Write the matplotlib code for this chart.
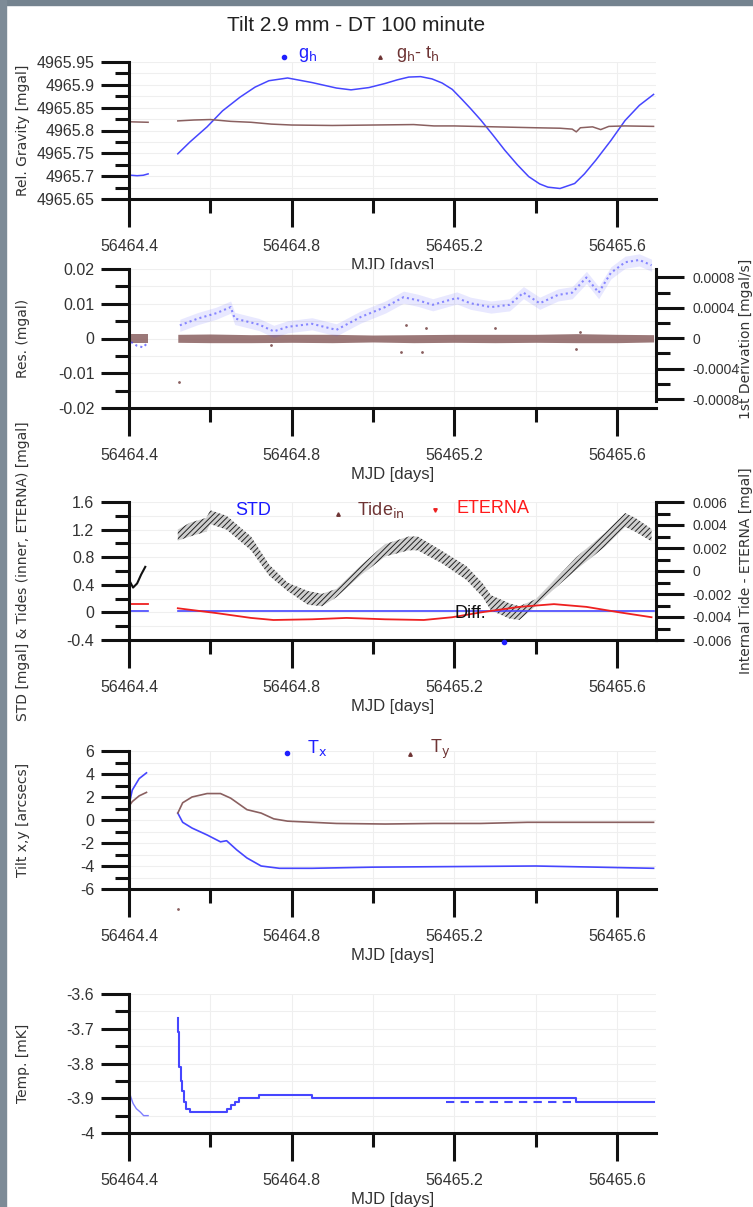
import matplotlib
matplotlib.use("Agg")
import matplotlib.pyplot as plt
from matplotlib.ticker import MultipleLocator, FuncFormatter
from matplotlib.lines import Line2D
from matplotlib.patches import Rectangle

plt.rcParams["font.family"] = ["Liberation Sans", "DejaVu Sans"]
plt.rcParams["axes.unicode_minus"] = False
plt.rcParams["mathtext.default"] = "regular"
plt.rcParams["hatch.linewidth"] = 0.7

# ---- panel 1: relative gravity [mgal]
gh_x1 = [56464.405, 56464.42, 56464.435, 56464.447]
gh_y1 = [4965.702, 4965.701, 4965.702, 4965.705]
gh_x = [56464.52, 56464.55, 56464.592, 56464.63, 56464.673, 56464.71, 56464.744,
        56464.79, 56464.85, 56464.91, 56464.946, 56464.99, 56465.03, 56465.06,
        56465.088, 56465.117, 56465.145, 56465.17, 56465.195, 56465.219, 56465.24,
        56465.265, 56465.295, 56465.324, 56465.355, 56465.383, 56465.41, 56465.43,
        56465.46, 56465.496, 56465.52, 56465.548, 56465.585, 56465.62, 56465.655,
        56465.69]
gh_y = [4965.749, 4965.775, 4965.808, 4965.843, 4965.873, 4965.895, 4965.909,
        4965.915, 4965.905, 4965.893, 4965.889, 4965.894, 4965.903, 4965.911,
        4965.917, 4965.918, 4965.913, 4965.904, 4965.89, 4965.868, 4965.848,
        4965.823, 4965.79, 4965.757, 4965.725, 4965.699, 4965.683, 4965.676,
        4965.673, 4965.684, 4965.705, 4965.735, 4965.778, 4965.822, 4965.855,
        4965.879]
gt_x1 = [56464.405, 56464.447]
gt_y1 = [4965.819, 4965.818]
gt_x = [56464.52, 56464.56, 56464.6, 56464.65, 56464.7, 56464.75, 56464.8, 56464.9,
        56465.0, 56465.1, 56465.15, 56465.2, 56465.3, 56465.4, 56465.46, 56465.49,
        56465.5, 56465.51, 56465.54, 56465.56, 56465.58, 56465.62, 56465.69]
gt_y = [4965.821, 4965.823, 4965.824, 4965.82, 4965.818, 4965.814, 4965.812,
        4965.811, 4965.812, 4965.813, 4965.81, 4965.81, 4965.808, 4965.806,
        4965.805, 4965.803, 4965.797, 4965.806, 4965.808, 4965.802, 4965.809,
        4965.81, 4965.809]

# ---- panel 2: residuals [mgal] and 1st derivation [mgal/s]
res_x1 = [56464.405, 56464.447]
res_x = [56464.52, 56464.6, 56464.7, 56464.8, 56464.9, 56465.0, 56465.1, 56465.2,
         56465.3, 56465.4, 56465.5, 56465.6, 56465.69]
res_hi = [0.0012, 0.0013, 0.0011, 0.0012, 0.0012, 0.0010, 0.0011, 0.0012, 0.0012,
          0.0012, 0.0014, 0.0012, 0.0011]
res_lo = [-0.0011, -0.0012, -0.0012, -0.0011, -0.0012, -0.0010, -0.0012, -0.0011,
          -0.0012, -0.0011, -0.0012, -0.0012, -0.0010]
res_out_x = [56464.523, 56464.75, 56465.07, 56465.08, 56465.12, 56465.13, 56465.3,
             56465.5, 56465.51]
res_out_y = [-0.0125, -0.002, -0.004, 0.004, -0.004, 0.003, 0.003, -0.003, 0.002]
der_x1 = [56464.405, 56464.42, 56464.435, 56464.447]
der_y1 = [-0.00005, -0.0001, -0.00012, -0.00005]
der_x = [56464.525, 56464.57, 56464.615, 56464.65, 56464.66, 56464.72, 56464.756,
         56464.79, 56464.85, 56464.91, 56464.97, 56465.03, 56465.075, 56465.11,
         56465.147, 56465.206, 56465.24, 56465.29, 56465.336, 56465.37, 56465.41,
         56465.455, 56465.49, 56465.525, 56465.555, 56465.585, 56465.62, 56465.655,
         56465.685]
der_y = [0.00017, 0.00026, 0.00033, 0.00041, 0.00026, 0.00018, 0.00009, 0.00015,
         0.00019, 0.00011, 0.00028, 0.00041, 0.00054, 0.0005, 0.00044, 0.00053,
         0.00046, 0.00041, 0.00044, 0.0006, 0.00046, 0.00057, 0.0006, 0.0008,
         0.0006, 0.00086, 0.001, 0.00103, 0.00096]

# ---- panel 3: STD, tides
tide_x1 = [56464.402, 56464.41, 56464.42, 56464.43, 56464.44]
tide_y1 = [0.45, 0.36, 0.42, 0.55, 0.66]
tide_x = [56464.52, 56464.55, 56464.59, 56464.6, 56464.64, 56464.7, 56464.745,
          56464.79, 56464.84, 56464.875, 56464.91, 56464.97, 56465.03, 56465.088,
          56465.11, 56465.17, 56465.23, 56465.27, 56465.29, 56465.336, 56465.36,
          56465.4, 56465.44, 56465.5, 56465.57, 56465.62, 56465.645, 56465.685]
tide_y = [1.12, 1.2, 1.27, 1.38, 1.30, 1.0, 0.61, 0.37, 0.21, 0.18, 0.28, 0.61, 0.9,
          1.0, 1.0, 0.8, 0.57, 0.32, 0.14, 0.02, -0.01, 0.14, 0.37, 0.71, 1.05, 1.34,
          1.27, 1.12]
tide_hw = [0.08, 0.1, 0.1, 0.1, 0.1, 0.1, 0.08, 0.06, 0.1, 0.09, 0.06, 0.07,
           0.09, 0.1, 0.1, 0.09, 0.1, 0.1, 0.11, 0.11, 0.1, 0.05, 0.06, 0.09,
           0.1, 0.1, 0.1, 0.09]
ete_x1 = [56464.405, 56464.447]
ete_y1 = [0.12, 0.12]
ete_x = [56464.52, 56464.615, 56464.7, 56464.755, 56464.85, 56464.935, 56465.03,
         56465.125, 56465.195, 56465.265, 56465.36, 56465.445, 56465.525, 56465.607,
         56465.685]
ete_y = [0.06, -0.01, -0.08, -0.11, -0.1, -0.08, -0.1, -0.11, -0.07, 0.0, 0.08, 0.12,
         0.08, 0.0, -0.07]
std_x1 = [56464.405, 56464.447]
std_y1 = [0.02, 0.02]
std_x = [56464.52, 56464.8, 56465.1, 56465.4, 56465.69]
std_y = [0.02, 0.02, 0.02, 0.02, 0.02]

# ---- panel 4: tilt [arcsecs]
tx_x1 = [56464.4, 56464.408, 56464.425, 56464.443]
tx_y1 = [1.3, 2.6, 3.6, 4.1]
ty_x1 = [56464.4, 56464.408, 56464.425, 56464.443]
ty_y1 = [1.2, 1.6, 2.1, 2.4]
tx_x = [56464.52, 56464.532, 56464.555, 56464.592, 56464.625, 56464.64, 56464.665,
        56464.69, 56464.725, 56464.77, 56464.85, 56465.0, 56465.2, 56465.4, 56465.55,
        56465.69]
tx_y = [0.6, -0.2, -0.7, -1.3, -1.9, -1.8, -2.6, -3.3, -4.0, -4.2, -4.2, -4.1, -4.05,
        -4.0, -4.1, -4.2]
ty_x = [56464.52, 56464.532, 56464.555, 56464.592, 56464.625, 56464.65, 56464.69,
        56464.725, 56464.756, 56464.79, 56464.91, 56465.03, 56465.15, 56465.265,
        56465.38, 56465.5, 56465.69]
ty_y = [0.6, 1.5, 2.0, 2.3, 2.3, 1.9, 0.9, 0.6, 0.1, -0.1, -0.3, -0.35, -0.3, -0.3,
        -0.2, -0.2, -0.2]

# ---- panel 5: temperature [mK]
temp_x1 = [56464.4, 56464.404, 56464.41, 56464.418, 56464.428, 56464.436, 56464.447]
temp_y1 = [-3.875, -3.895, -3.915, -3.93, -3.94, -3.95, -3.95]
temp_x = [56464.52, 56464.521, 56464.522, 56464.524, 56464.527, 56464.53, 56464.535,
          56464.54, 56464.55, 56464.64, 56464.65, 56464.66, 56464.67, 56464.72,
          56464.85, 56465.5, 56465.69]
temp_y = [-3.67, -3.71, -3.76, -3.81, -3.85, -3.88, -3.91, -3.93, -3.94, -3.93,
          -3.92, -3.91, -3.9, -3.89, -3.9, -3.91, -3.91]
temp2_x = [56465.18, 56465.5]
temp2_y = [-3.91, -3.91]

BLUE = "#4646ff"
BROWN = "#8a6060"
RED = "#ee2020"
W, H = 753, 1207

fig = plt.figure(figsize=(W / 100, H / 100), dpi=100)


def fx(px):
    return px / W


def fy(py):
    return 1 - py / H


def fmt(v, pos):
    v = round(v, 8) + 0.0
    return f"{v:g}"


def make_ax(top, bottom, ymaj, ymin, ylim, ylabel):
    ax = fig.add_axes([fx(129), fy(bottom), fx(656) - fx(129), (bottom - top) / H])
    ax.set_xlim(56464.4, 56465.696)
    ax.set_ylim(*ylim)
    for s in ["top", "right"]:
        ax.spines[s].set_visible(False)
    for s in ["left", "bottom"]:
        ax.spines[s].set_linewidth(2.2)
        ax.spines[s].set_color("#111111")
    ax.xaxis.set_major_locator(MultipleLocator(0.4))
    ax.xaxis.set_minor_locator(MultipleLocator(0.2))
    ax.yaxis.set_major_locator(MultipleLocator(ymaj))
    ax.yaxis.set_minor_locator(MultipleLocator(ymin))
    ax.xaxis.set_major_formatter(FuncFormatter(lambda v, p: f"{v:.1f}"))
    ax.yaxis.set_major_formatter(FuncFormatter(fmt))
    ax.tick_params(which="major", direction="out", length=20, width=2.2,
                   color="#111111", labelcolor="#333333", labelsize=11.5)
    ax.tick_params(which="minor", direction="out", length=10, width=2.2,
                   color="#111111")
    ax.tick_params(axis="x", which="major", pad=9)
    ax.tick_params(axis="y", which="major", pad=5)
    ax.grid(which="both", color="#efefef", linewidth=0.8)
    ax.set_axisbelow(True)
    ax.set_xlabel("MJD [days]", fontsize=12, color="#333333", labelpad=3)
    ax.set_ylabel(ylabel, fontsize=10, family=["DejaVu Sans"], color="#333333")
    ax.yaxis.set_label_coords(-0.188, 0.5)
    return ax


def make_right(ax, ylim, ymaj, ymin, bounds, label):
    r = ax.twinx()
    r.set_ylim(*ylim)
    for s in ["top", "left", "bottom"]:
        r.spines[s].set_visible(False)
    r.spines["right"].set_linewidth(2.2)
    r.spines["right"].set_color("#111111")
    r.spines["right"].set_bounds(*bounds)
    r.yaxis.set_major_locator(MultipleLocator(ymaj))
    r.yaxis.set_minor_locator(MultipleLocator(ymin))
    r.yaxis.set_major_formatter(FuncFormatter(fmt))
    r.tick_params(which="major", direction="out", length=20, width=2.2,
                  color="#111111", labelcolor="#333333", labelsize=10, pad=6)
    r.tick_params(which="minor", direction="out", length=10, width=2.2,
                  color="#111111")
    r.set_ylabel(label, fontsize=10, family=["DejaVu Sans"], color="#333333")
    r.yaxis.set_label_coords(1.157, 0.5)
    return r


def marker(x, y, m, c, ms):
    fig.add_artist(Line2D([fx(x)], [fy(y)], marker=m, ms=ms, color=c, lw=0,
                          transform=fig.transFigure))


def label(x, y, s, c, size=13):
    fig.text(fx(x), fy(y), s, color=c, fontsize=size, va="baseline")


# window frame
fig.add_artist(Rectangle((0, fy(5)), 1, 5 / H, transform=fig.transFigure,
                         color="#74838f", zorder=0))
fig.add_artist(Rectangle((0, 0), 6 / W, 1, transform=fig.transFigure,
                         color="#7d8b97", zorder=0))

fig.text(fx(356), fy(31), "Tilt 2.9 mm - DT 100 minute", ha="center",
         va="baseline", fontsize=15, color="#222222")

# panel 1
ax1 = make_ax(62, 199, 0.05, 0.025, (4965.65, 4965.95), "Rel. Gravity [mgal]")
ax1.plot(gh_x1, gh_y1, color=BLUE, lw=1.1)
ax1.plot(gh_x, gh_y, color=BLUE, lw=1.1)
ax1.plot(gt_x1, gt_y1, color=BROWN, lw=1.1)
ax1.plot(gt_x, gt_y, color=BROWN, lw=1.1)
marker(284, 57, "o", "#2020ff", 3)
label(298, 58, "g$_\\mathrm{h}$", "#2020ff")
marker(380, 57, "^", "#6e3434", 2.5)
label(396, 58, "g$_\\mathrm{h}$- t$_\\mathrm{h}$", "#6e3434")

# panel 2
ax2 = make_ax(269, 408, 0.01, 0.005, (-0.02, 0.02), "Res. (mgal)")
ax2.fill_between(res_x1, [-0.0012, -0.0012], [0.0012, 0.0012], color=BROWN, lw=0,
                 alpha=0.85)
ax2.fill_between(res_x, res_lo, res_hi, color=BROWN, lw=0, alpha=0.85)
ax2.plot(res_out_x, res_out_y, ".", color=BROWN, ms=2)
ax2r = make_right(ax2, (-0.000918, 0.000911), 0.0004, 0.0002, (-0.00082, 0.000911),
                  "1st Derivation [mgal/s]")
ax2r.plot(der_x1, der_y1, color=BLUE, lw=1.5, ls=(0, (1, 1.5)), alpha=0.7)
ax2r.plot(der_x, der_y, color=BLUE, lw=1.5, ls=(0, (1, 1.5)), alpha=0.6,
          clip_on=False)
ax2r.fill_between(der_x, [v - 0.00008 for v in der_y], [v + 0.00008 for v in der_y],
                  color=BLUE, alpha=0.12, lw=0, clip_on=False)

# panel 3
ax3 = make_ax(502, 640, 0.4, 0.2, (-0.4, 1.6),
              "STD [mgal] & Tides (inner, ETERNA) [mgal]")
ax3.plot(tide_x1, tide_y1, color="#111111", lw=1.5)
ax3.fill_between(tide_x, [a - b for a, b in zip(tide_y, tide_hw)],
                 [a + b for a, b in zip(tide_y, tide_hw)], facecolor="#cfcfcf",
                 edgecolor="#222222", hatch="//////", lw=0)
ax3.plot(std_x1, std_y1, color=BLUE, lw=1.2)
ax3.plot(std_x, std_y, color=BLUE, lw=1.2)
ax3.plot(ete_x1, ete_y1, color=RED, lw=1.3)
ax3.plot(ete_x, ete_y, color=RED, lw=1.3)
ax3r = make_right(ax3, (-0.006, 0.006), 0.002, 0.001, (-0.006, 0.006),
                  "Internal Tide - ETERNA [mgal]")
label(235, 515, "STD", "#1a1aff")
marker(338, 514, "^", "#6e3434", 2.5)
label(357, 515, "Tide$_\\mathrm{in}$", "#6e3434")
marker(435, 510, "v", RED, 2.5)
label(457, 513, "ETERNA", "#ff1a1a")
label(454, 618, "Diff.", "#111111")
marker(504, 642, "o", "#2020ff", 3)

# panel 4
ax4 = make_ax(751, 889, 2, 1, (-6, 6), "Tilt x,y [arcsecs]")
ax4.plot(tx_x1, tx_y1, color=BLUE, lw=1.2)
ax4.plot(ty_x1, ty_y1, color=BROWN, lw=1.2)
ax4.plot(tx_x, tx_y, color=BLUE, lw=1.2)
ax4.plot(ty_x, ty_y, color=BROWN, lw=1.2)
ax4.plot([56464.52], [-7.7], ".", color=BROWN, ms=2, clip_on=False)
marker(287, 753, "o", "#2020ff", 3)
label(307, 753, "T$_\\mathrm{x}$", "#2020ff")
marker(410, 754, "^", "#6e3434", 2.5)
label(430, 753, "T$_\\mathrm{y}$", "#6e3434")

# panel 5
ax5 = make_ax(994, 1133, 0.1, 0.05, (-4.0, -3.6), "Temp. [mK]")
ax5.plot(temp_x1, temp_y1, color=BLUE, lw=1.0, alpha=0.7)
ax5.plot(temp_x, temp_y, color=BLUE, lw=1.5, drawstyle="steps-post")
ax5.plot(temp2_x, temp2_y, color=BLUE, lw=1.5, ls=(0, (4, 3)))

fig.savefig("out.png", dpi=100)
